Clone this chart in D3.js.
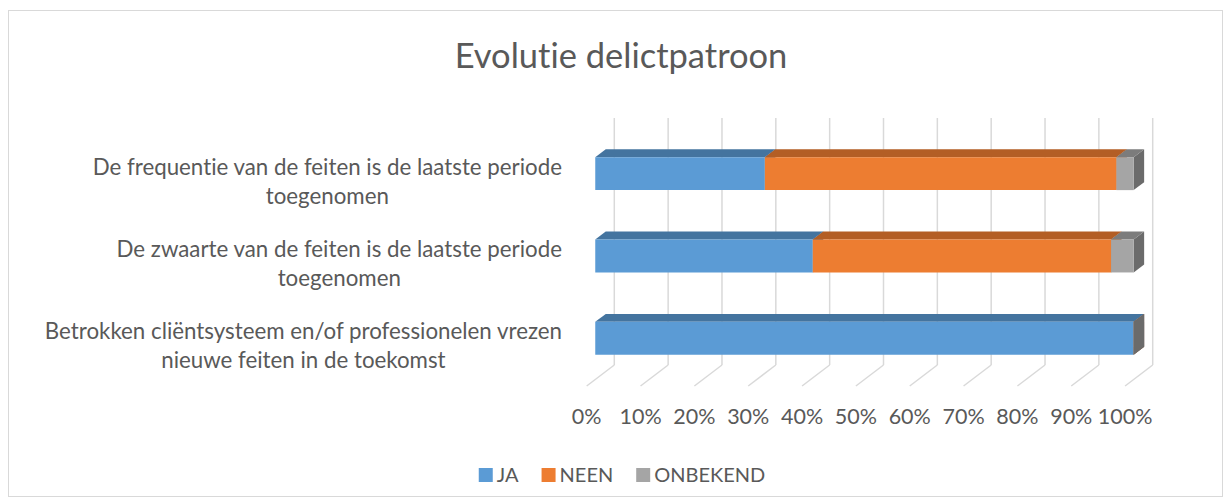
<!DOCTYPE html>
<html>
<head>
<meta charset="utf-8">
<script src="https://cdn.jsdelivr.net/npm/d3@7"></script>
<style>
  body { margin: 0; background: #fff; }
  svg { font-family: Lato, "Open Sans", sans-serif; font-variant-ligatures: none; }
</style>
</head>
<body>
<div id="chart"></div>
<script>
// Data
const categories = [
    "De frequentie van de feiten is de laatste periode toegenomen",
    "De zwaarte van de feiten is de laatste periode toegenomen",
    "Betrokken cliëntsysteem en/of professionelen vrezen nieuwe feiten in de toekomst"
];
// label lines, as wrapped in the chart
const categoryLines = [
    ["De frequentie van de feiten is de laatste periode", "toegenomen"],
    ["De zwaarte van de feiten is de laatste periode", "toegenomen"],
    ["Betrokken cliëntsysteem en/of professionelen vrezen", "nieuwe feiten in de toekomst"]
];
const seriesNames = ["JA", "NEEN", "ONBEKEND"];
const ja = [31.5, 40.4, 100];
const neen = [65.3, 55.4, 0];
const onbekend = [3.2, 4.2, 0];
const tickValues = [0, 10, 20, 30, 40, 50, 60, 70, 80, 90, 100];
const tickLabels = ["0%", "10%", "20%", "30%", "40%", "50%", "60%", "70%", "80%", "90%", "100%"];

const colors = {
    JA: { front: "#5b9bd5", top: "#44749f", side: "#44749f" },
    NEEN: { front: "#ed7d31", top: "#b35e25", side: "#b35e25" },
    ONBEKEND: { front: "#a5a5a5", top: "#7c7c7c", side: "#6b6b6b" }
};

const width = 1231, height = 504;
const svg = d3.select("#chart").append("svg")
    .attr("width", width)
    .attr("height", height);

// chart border
svg.append("rect")
    .attr("x", 8.5).attr("y", 10.5)
    .attr("width", 1214).attr("height", 486)
    .attr("fill", "#fff")
    .attr("stroke", "#d9d9d9");

// title
svg.append("text")
    .attr("x", 621).attr("y", 68)
    .attr("text-anchor", "middle")
    .attr("fill", "#595959")
    .style("font-size", "34.5px")
    .text("Evolutie delictpatroon");

// scales (front plane of the 3D box)
const x = d3.scaleLinear().domain([0, 100]).range([586.7, 1125.1]);
const y = d3.scaleBand().domain(categories).range([139, 386])
    .paddingInner(0.6).paddingOuter(0.3);

// depth of the 3D box
const DX = 27.6, DY = 21;
const d0 = 0.31, d1 = 0.69;
function p(v, yy, d) {
    return [x(v) + d * DX, yy - d * DY];
}
const line = pts => "M" + pts.map(q => q.join(",")).join("L") + "Z";

// gridlines on back wall and floor
const grid = svg.append("g");
const [yTop, yBot] = y.range();
grid.selectAll(".wall")
    .data(tickValues)
    .enter().append("line")
    .attr("x1", d => p(d, yTop, 1)[0]).attr("y1", d => p(d, yTop, 1)[1])
    .attr("x2", d => p(d, yBot, 1)[0]).attr("y2", d => p(d, yBot, 1)[1])
    .attr("stroke", "#d9d9d9").attr("stroke-width", 1.5);
grid.selectAll(".floor")
    .data(tickValues)
    .enter().append("line")
    .attr("x1", d => p(d, yBot, 1)[0]).attr("y1", d => p(d, yBot, 1)[1])
    .attr("x2", d => p(d, yBot, 0)[0]).attr("y2", d => p(d, yBot, 0)[1])
    .attr("stroke", "#d9d9d9").attr("stroke-width", 1.5);

// tick labels
svg.append("g").selectAll("text")
    .data(tickValues)
    .enter().append("text")
    .attr("x", d => x(d))
    .attr("y", 424)
    .attr("text-anchor", "middle")
    .attr("fill", "#595959")
    .style("font-size", "21.5px")
    .text((d, i) => tickLabels[i]);

// stacked bars
const table = categories.map((c, i) => ({ cat: c, JA: ja[i], NEEN: neen[i], ONBEKEND: onbekend[i] }));
const stacked = d3.stack().keys(seriesNames)(table);

const bars = svg.append("g");
categories.forEach((c, ci) => {
    const yt = y(c), yb = y(c) + y.bandwidth();
    stacked.forEach(s => {
        const v0 = s[ci][0], v1 = s[ci][1];
        const col = colors[s.key];
        const g = bars.append("g");
        // side
        g.append("path")
            .attr("d", line([p(v1, yt, d0), p(v1, yt, d1), p(v1, yb, d1), p(v1, yb, d0)]))
            .attr("fill", col.side);
        // top
        g.append("path")
            .attr("d", line([p(v0, yt, d0), p(v1, yt, d0), p(v1, yt, d1), p(v0, yt, d1)]))
            .attr("fill", col.top);
        // front
        if (v1 > v0) {
            g.append("path")
                .attr("d", line([p(v0, yt, d0), p(v1, yt, d0), p(v1, yb, d0), p(v0, yb, d0)]))
                .attr("fill", col.front);
        }
    });
});

// category labels (centered block, right edge aligned)
const labelRight = 562;
const lineH = 29;
categoryLines.forEach((lines, i) => {
    const cy = y(categories[i]) + y.bandwidth() / 2 + 2;
    const t = svg.append("text")
        .attr("text-anchor", "middle")
        .attr("fill", "#595959")
        .style("font-size", "22.3px");
    lines.forEach((l, k) => {
        t.append("tspan")
            .attr("y", cy + (k - (lines.length - 1) / 2) * lineH + 7)
            .text(l);
    });
    let maxW = 0;
    t.selectAll("tspan").each(function () { maxW = Math.max(maxW, this.getComputedTextLength()); });
    t.selectAll("tspan").attr("x", labelRight - maxW / 2);
});

// legend
const legend = svg.append("g");
let lx = 0;
seriesNames.forEach(name => {
    const g = legend.append("g").attr("transform", `translate(${lx},0)`);
    g.append("rect")
        .attr("x", 0).attr("y", 468)
        .attr("width", 14).attr("height", 14)
        .attr("fill", colors[name].front);
    const t = g.append("text")
        .attr("x", 18).attr("y", 482)
        .attr("fill", "#595959")
        .style("font-size", "20px")
        .text(name);
    lx += 18 + t.node().getComputedTextLength() + 23;
});
lx -= 23;
legend.attr("transform", `translate(${622 - lx / 2},0)`);
</script>
</body>
</html>
